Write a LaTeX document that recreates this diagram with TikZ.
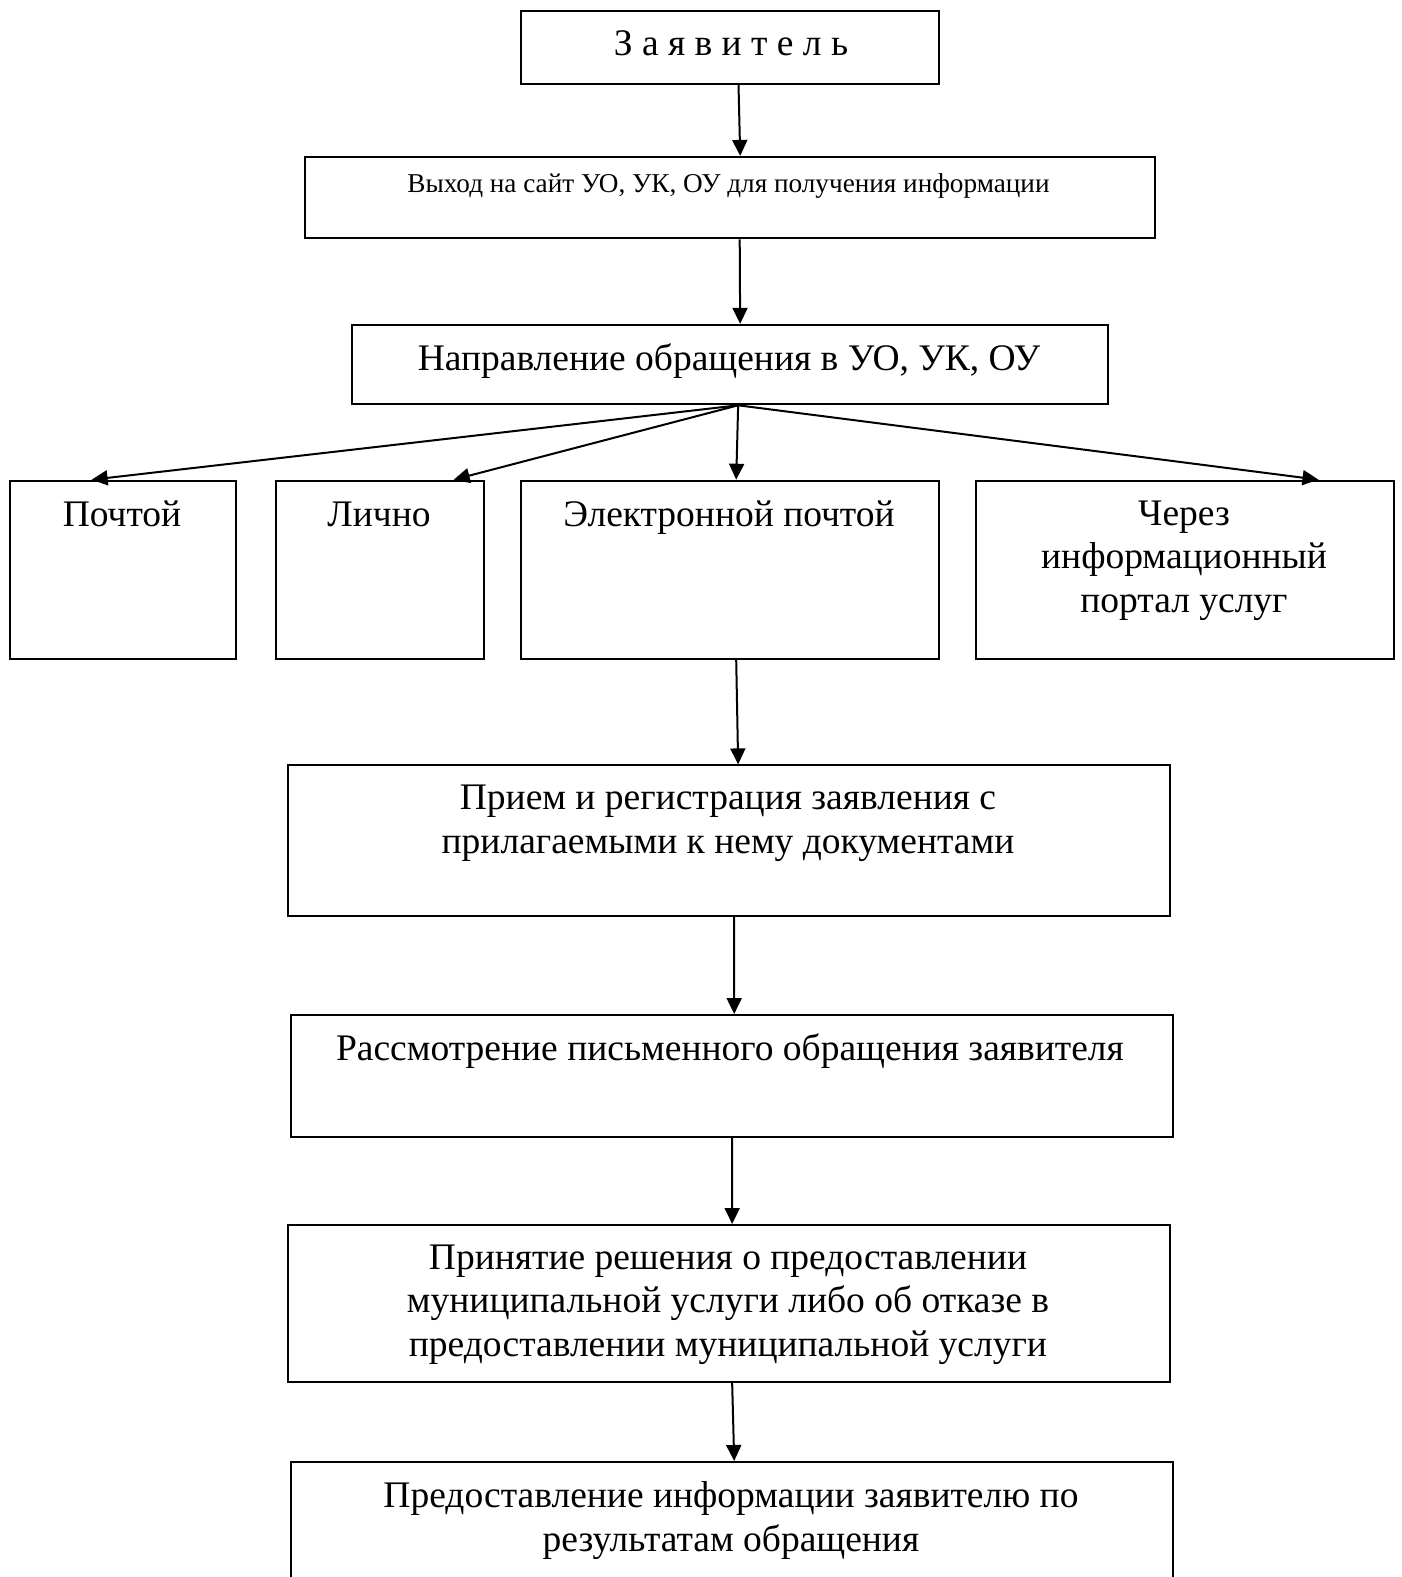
\documentclass[tikz,border=0pt]{standalone}
\usepackage{fontspec}
\setmainfont{Liberation Serif}
\usetikzlibrary{arrows.meta}
\begin{document}
\begin{tikzpicture}[x=1pt,y=-1pt,
  box/.style={draw, line width=2pt, inner sep=0pt, anchor=north west},
  txt/.style={font=\fontsize{37.5}{43.5}\selectfont, align=center, anchor=base, inner sep=0pt},
  small/.style={font=\fontsize{27.2}{32}\selectfont, anchor=base, inner sep=0pt},
  arr/.style={line width=2pt, -{Triangle[width=15pt,length=16pt]}}]
\useasboundingbox (0,0) rectangle (1402,1577);
\clip (0,0) rectangle (1402,1577);
\fill[white] (0,0) rectangle (1402,1577);
% boxes
\node[box, minimum width=418pt, minimum height=72.5pt] (z) at (520,10) {};
\node[box, minimum width=850pt, minimum height=81.5pt] (v) at (303.7,155.9) {};
\node[box, minimum width=756.3pt, minimum height=79.5pt] (n) at (351,323.8) {};
\node[box, minimum width=226.3pt, minimum height=178pt] (p) at (9,479.7) {};
\node[box, minimum width=208.2pt, minimum height=178pt] (l) at (274.6,479.7) {};
\node[box, minimum width=418.4pt, minimum height=178pt] (e) at (520,479.7) {};
\node[box, minimum width=418.4pt, minimum height=178pt] (c) at (974.6,479.7) {};
\node[box, minimum width=882.1pt, minimum height=150.8pt] (r1) at (286.6,764.4) {};
\node[box, minimum width=882pt, minimum height=121.5pt] (r2) at (289.7,1014) {};
\node[box, minimum width=882.1pt, minimum height=157pt] (r3) at (286.6,1224) {};
\node[box, minimum width=882pt, minimum height=160pt] (r4) at (289.7,1461) {};
% texts (anchor=base is the baseline of the last line)
\node[txt] (tz) at (731,55) {З а я в и т е л ь};
\node[small] (tv) at (728.5,192) {Выход на сайт УО, УК, ОУ для получения информации};
\node[txt] (tn) at (729,370) {Направление обращения в УО, УК, ОУ};
\node[txt] (tp) at (122,526) {Почтой};
\node[txt] (tl) at (379,526) {Лично};
\node[txt] (te) at (729,526) {Электронной почтой};
\node[txt] (tc) at (1184,612) {Через\\информационный\\портал услуг};
\node[txt] (tr1) at (728,853) {Прием и регистрация заявления с\\прилагаемыми к нему документами};
\node[txt] (tr2) at (730,1060) {Рассмотрение письменного обращения заявителя};
\node[txt] (tr3) at (728,1356) {Принятие решения о предоставлении\\муниципальной услуги либо об отказе в\\предоставлении муниципальной услуги};
\node[txt] (tr4) at (731,1551) {Предоставление информации заявителю по\\результатам обращения};
% arrows
\draw[arr] ([xshift=8.5pt]z.south) -- ([xshift=10.5pt]v.north);
\draw[arr] ([xshift=10pt]v.south) -- ([xshift=10pt]n.north);
\coordinate (nb) at ([xshift=8pt]n.south);
\draw[arr] (nb) -- ([xshift=-31.5pt]p.north);
\draw[arr] (nb) -- ([xshift=74pt]l.north);
\draw[arr] (nb) -- ([xshift=6pt]e.north);
\draw[arr] (nb) -- ([xshift=133.7pt]c.north);
\draw[arr] ([xshift=6pt]e.south) -- ([xshift=9.5pt]r1.north);
\draw[arr] ([xshift=5.5pt]r1.south) -- ([xshift=2.5pt]r2.north);
\draw[arr] ([xshift=0.5pt]r2.south) -- ([xshift=3.5pt]r3.north);
\draw[arr] ([xshift=3.5pt]r3.south) -- ([xshift=2.5pt]r4.north);
\end{tikzpicture}
\end{document}
